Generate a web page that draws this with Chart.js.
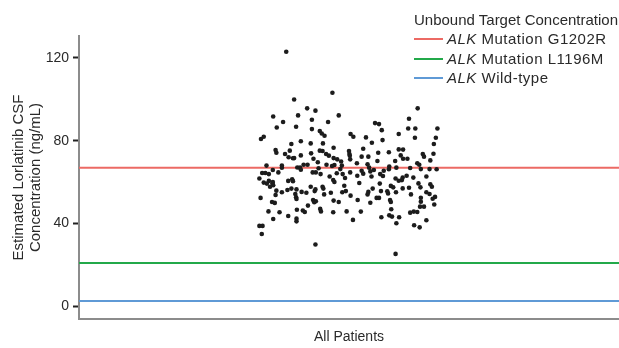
<!DOCTYPE html>
<html>
<head>
<meta charset="utf-8">
<script src="https://cdn.jsdelivr.net/npm/chart.js@4/dist/chart.umd.min.js"></script>
<style>
  html, body { margin: 0; padding: 0; background: #fff; overflow: hidden; }
  #wrap { position: relative; width: 619px; height: 348px; }
  #legend { position: absolute; left: 414px; top: 10px; font: 15px "Liberation Sans", Arial, sans-serif; color: #2a2a2a; line-height: 19.3px; white-space: nowrap; }
  #legend .item { letter-spacing: 0.5px; }
  #legend .sw { display: inline-block; width: 29px; height: 2px; vertical-align: middle; margin-right: 4px; position: relative; top: -1px; }
</style>
</head>
<body>
<div id="wrap">
  <canvas id="c" width="619" height="348"></canvas>
  <div id="legend"></div>
</div>
<script>
// ---- data ----
const categoryLabel = 'All Patients';
const yTitle = ['Estimated Lorlatinib CSF', 'Concentration (ng/mL)'];
const yTicks = [0, 40, 80, 120];
const legendTitle = 'Unbound Target Concentration';
const refGene = ['ALK', 'ALK', 'ALK'];
const refVariant = ['Mutation G1202R', 'Mutation L1196M', 'Wild-type'];
const refValues = [67, 21, 2.7];
const refColors = ['#ec6a64', '#23a94a', '#5f9ad6'];

// per-patient horizontal jitter (within the single category) and concentration (ng/mL)
const jitter = [
 -1.59,-0.42,-1.39,-0.26,1.74,-1.06,-0.85,-1.92,-1.67,-1.29,-0.94,-0.53,0.66,0.76,1.52,-1.83,-1.34,-0.94,-0.74,0.83,
 1.50,1.68,2.24,-0.62,-0.69,0.04,0.11,0.43,1.26,1.67,2.20,-2.23,-2.16,0.85,-1.22,-1.46,-0.97,-0.66,2.15,-0.39,
 0.36,-1.86,-1.84,-0.74,0.00,1.01,1.26,1.37,0.58,-1.50,1.87,2.14,-1.62,-1.22,-0.96,-0.58,0.02,0.32,0.49,0.74,
 1.90,-1.53,-1.42,-0.39,0.03,1.37,2.06,-0.20,1.17,0.72,-0.79,0.20,-2.09,-1.70,-1.15,-1.05,-0.37,-0.18,0.47,1.02,
 1.78,-1.31,-1.24,-1.22,-0.77,-1.93,-1.70,-0.22,0.51,0.63,0.88,1.20,1.82,2.04,2.22,-0.92,-0.84,-1.79,-2.20,-2.12,
 -0.31,-0.16,0.03,0.32,0.36,0.54,0.79,1.01,-0.72,1.46,1.96,-2.27,-1.44,-0.49,-0.10,0.21,0.57,0.86,1.18,1.36,
 1.63,-1.54,-1.42,-0.40,-0.37,-2.03,1.26,1.34,-2.16,-2.08,-1.94,-1.92,0.26,0.78,1.76,2.06,-2.00,-0.97,-0.67,-0.12,
 1.06,1.12,1.36,1.52,1.81,2.10,-1.56,-1.46,-0.65,0.60,-1.84,-1.20,-1.08,-0.08,0.49,0.81,0.99,1.19,1.96,-1.70,
 -0.87,-0.17,-0.46,2.04,-1.36,-0.63,0.47,1.57,-1.86,0.04,0.97,-1.34,-2.24,-1.33,0.70,0.76,2.12,2.18,1.82,0.22,
 0.54,1.04,1.06,-0.91,-0.84,-0.88,-0.39,-0.26,-1.95,-1.88,1.82,2.16,-1.04,1.90,1.80,-0.73,-1.32,-1.17,-0.71,-1.12,
 1.07,-2.04,-1.76,-0.40,-0.06,0.30,1.55,1.64,1.73,-1.54,0.82,1.02,1.09,1.27,-1.92,-1.33,-1.33,0.10,1.96,1.20,
 -2.27,-2.19,1.65,1.79,-2.21,-0.85,1.18,-1.39,-0.90,-0.67,-0.51,-0.30,-0.57,-0.43,-2.03,-1.93,-1.33,-0.85,0.01,1.31,
 1.55,1.73,1.48
];
const conc = [
 122.9,103.1,99.9,92.2,95.6,95.6,94.5,91.7,89.0,92.2,90.1,89.0,88.5,88.0,90.6,86.4,86.7,85.6,84.7,85.1,
 85.9,85.9,85.9,82.4,83.5,83.2,81.9,81.6,83.2,81.4,81.4,80.8,81.9,80.3,79.7,78.4,78.7,78.7,78.4,76.6,
 76.1,75.5,74.2,75.2,75.0,74.4,75.8,75.7,79.0,75.2,73.6,73.7,73.6,72.9,73.9,73.6,72.8,72.3,72.3,74.2,
 72.3,72.0,71.5,71.6,71.0,71.3,70.5,70.0,70.2,70.2,69.6,69.1,68.0,68.0,68.4,68.4,68.3,68.0,68.6,67.5,
 68.4,67.1,67.0,66.0,66.7,65.9,67.0,66.3,67.0,65.9,65.5,67.0,66.3,66.3,66.2,64.7,64.7,64.7,64.4,64.4,
 64.3,63.9,64.7,65.5,64.1,65.2,63.9,66.2,63.9,63.1,62.7,61.8,61.4,62.7,62.0,63.1,62.7,63.0,61.8,62.2,
 62.2,60.6,60.5,61.0,60.1,60.6,60.7,61.0,59.8,59.3,59.3,58.5,59.6,59.3,59.4,59.0,57.8,57.8,57.8,58.3,
 58.2,57.5,57.0,57.3,57.5,57.8,56.2,56.9,56.9,56.9,55.9,55.3,54.9,55.7,55.3,55.7,54.5,55.1,55.1,55.1,
 55.7,55.1,54.9,54.3,54.3,54.1,54.1,54.1,53.8,53.5,55.6,52.7,52.4,51.9,52.4,52.4,52.0,52.9,52.5,51.4,
 50.1,51.4,50.4,51.4,50.8,50.3,51.1,50.4,50.4,50.0,50.6,49.2,48.7,48.2,48.2,47.1,46.7,46.3,45.9,45.6,
 46.9,45.9,45.5,45.5,45.9,45.8,45.3,45.8,45.6,43.7,43.1,44.0,43.4,43.1,42.2,42.4,41.1,41.8,41.6,40.2,
 38.9,38.9,39.2,38.2,35.0,29.9,25.4,71.6,71.3,75.0,72.8,71.0,68.4,67.8,63.9,60.1,56.5,56.5,73.6,72.9,
 66.8,69.1,71.3
];

// ---- layout constants (not data) ----
const X_MIN = -6.84, X_MAX = 6.84;
const Y_MIN = -6, Y_MAX = 130.5;
const FONT = '"Liberation Sans", Arial, sans-serif';
const TEXT = '#2a2a2a';
const AXIS = '#8c8c8c';

Chart.defaults.font.family = FONT;
Chart.defaults.color = TEXT;

const pointData = conc.map((v, i) => ({ x: jitter[i], y: v }));
const refSets = refValues.map((v, i) => ({
  type: 'line',
  label: refGene[i] + ' ' + refVariant[i],
  data: [{ x: X_MIN, y: v }, { x: X_MAX, y: v }],
  borderColor: refColors[i],
  backgroundColor: refColors[i],
  borderWidth: 2,
  pointRadius: 0,
  fill: false
}));

new Chart(document.getElementById('c'), {
  type: 'scatter',
  data: {
    datasets: [{
      label: categoryLabel,
      data: pointData,
      pointRadius: 2.3,
      pointBorderWidth: 0,
      backgroundColor: '#1c1c1c',
      borderColor: '#1c1c1c'
    }].concat(refSets)
  },
  options: {
    responsive: false,
    animation: false,
    layout: { autoPadding: false, padding: { top: 36, right: 0, left: 0, bottom: 0 } },
    plugins: { legend: { display: false }, tooltip: { enabled: false } },
    scales: {
      x: {
        type: 'linear', min: X_MIN, max: X_MAX,
        ticks: { display: false },
        grid: { display: false, drawTicks: false },
        border: { display: true, color: AXIS, width: 2 },
        title: { display: true, text: categoryLabel, font: { size: 14 }, color: TEXT, padding: { top: 0, bottom: 2 } },
        afterFit: s => { s.height = 29; }
      },
      y: {
        type: 'linear', min: Y_MIN, max: Y_MAX,
        afterBuildTicks: s => { s.ticks = yTicks.map(v => ({ value: v })); },
        ticks: { font: { size: 14 }, color: TEXT, padding: 4 },
        grid: { drawOnChartArea: false, drawTicks: true, tickLength: 6, tickColor: '#222', tickWidth: 2 },
        border: { display: true, color: AXIS, width: 2 },
        title: { display: true, text: yTitle, font: { size: 15, lineHeight: 1.15 }, color: TEXT, padding: { top: 10, bottom: 0 } },
        afterFit: s => { s.width = 79; }
      }
    }
  }
});

// legend (HTML, built from the arrays)
const lg = document.getElementById('legend');
const t = document.createElement('div'); t.textContent = legendTitle; lg.appendChild(t);
refVariant.forEach((name, i) => {
  const row = document.createElement('div'); row.className = 'item';
  const sw = document.createElement('span'); sw.className = 'sw'; sw.style.background = refColors[i];
  const it = document.createElement('i'); it.textContent = refGene[i];
  row.appendChild(sw); row.appendChild(it); row.appendChild(document.createTextNode(' ' + name));
  lg.appendChild(row);
});
</script>
</body>
</html>
